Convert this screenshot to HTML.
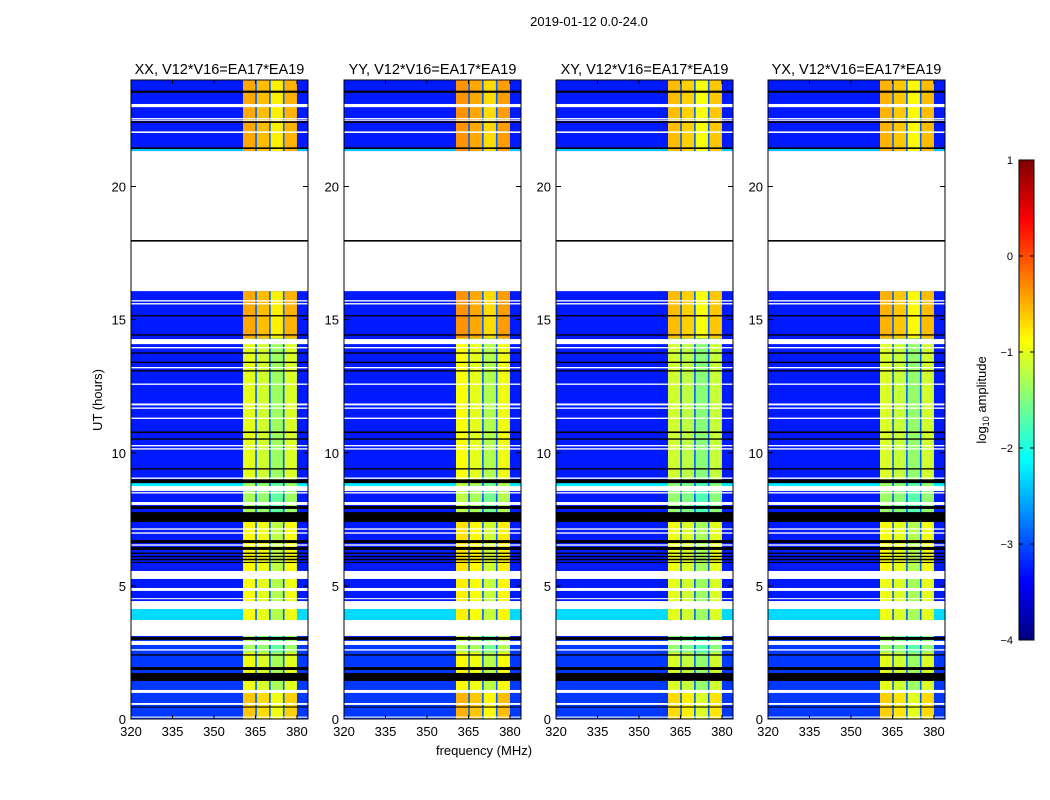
<!DOCTYPE html>
<html><head><meta charset="utf-8"><style>
body{margin:0;background:#fff;}
svg{display:block;font-family:"Liberation Sans","DejaVu Sans",sans-serif;}
</style></head><body>
<svg id="fig" width="1050" height="800" viewBox="0 0 1050 800">
<rect width="1050" height="800" fill="#fff"/>
<text x="589" y="26" font-size="13" text-anchor="middle">2019-01-12 0.0-24.0</text>
<text x="484" y="755" font-size="13" text-anchor="middle">frequency (MHz)</text>
<text transform="translate(102,400) rotate(-90)" font-size="13" text-anchor="middle">UT (hours)</text>
<text transform="translate(986,400) rotate(-90)" font-size="13" text-anchor="middle">log<tspan font-size="9" dy="3">10</tspan><tspan dy="-3"> amplitude</tspan></text>
</svg>
<script>
const panelNames=['XX','YY','XY','YX'];
const panelOffset=[0,0.1,-0.1,-0.05];
const xTicks=[320,335,350,365,380];
const yTicks=[0,5,10,15,20];
const cbTicks=[1,0,-1,-2,-3,-4];
const subbandEdges=[360.5,365,370,375,380];
const subbandOffset=[0,-0.1,-0.35,-0.05];
const gapLevel=-2.9;
const bgDefault=-3.25;
const bgSegments=[[0,3.1,-3.1],[3.72,4.13,-2.3],[8.75,8.86,-2.2],[21.33,21.41,-2.4]];
const bandSegments=[[21.33,24,-0.45],[14.3,16.07,-0.45],[8.9,14.3,-1.0],[7.6,8.9,-1.3],[5.5,7.6,-0.85],[3.6,5.5,-0.9],[2.5,3.6,-1.3],[1.0,2.5,-0.95],[0,1.0,-0.6]];
const flagSegments=[
[23.52,23.6,'k'],[22.98,23.1,'w'],[22.47,22.51,'w'],[22.53,22.57,'w'],[22.39,22.45,'k'],[22.01,22.07,'w'],[21.41,21.47,'k'],
[16.07,21.33,'w'],[17.93,17.99,'k'],
[15.68,15.73,'w'],[15.57,15.62,'w'],[15.12,15.17,'k'],[14.4,14.45,'k'],[14.08,14.27,'w'],[13.92,13.97,'w'],
[13.72,13.77,'k'],[13.37,13.42,'k'],[13.17,13.22,'w'],[13.05,13.1,'k'],[12.55,12.6,'w'],[11.78,11.85,'w'],
[11.65,11.7,'w'],[11.27,11.32,'w'],[10.74,10.8,'k'],[10.49,10.54,'k'],[10.24,10.29,'w'],[10.12,10.17,'w'],
[9.37,9.42,'k'],[9.02,9.07,'w'],[8.86,9.0,'k'],[8.56,8.75,'w'],[8.47,8.52,'w'],[8.04,8.15,'w'],[7.89,8.0,'k'],
[7.4,7.77,'k'],[7.11,7.16,'w'],[6.96,7.01,'w'],[6.61,6.72,'k'],[6.51,6.56,'w'],[6.35,6.46,'k'],
[6.2,6.25,'k'],[6.08,6.13,'k'],[5.96,6.02,'k'],[5.86,5.9,'k'],[5.26,5.56,'w'],[4.81,4.92,'w'],[4.5,4.54,'w'],
[4.13,4.43,'w'],[3.12,3.72,'w'],[2.97,3.08,'k'],[2.78,2.93,'w'],[2.57,2.62,'w'],[2.38,2.43,'k'],
[1.84,1.95,'k'],[1.43,1.73,'k'],[0.98,1.09,'w'],[0.53,0.6,'w'],[0.43,0.47,'k'],[0.05,0.09,'w']];
const panelLeft=[131,344,556,768];
const PW=177, PT=80, PB=719, F0=320, F1=384, T0=0, T1=24;
const NS='http://www.w3.org/2000/svg';
const svg=document.getElementById('fig');
function jet(v){let t=Math.max(0,Math.min(1,(v+4)/5));const c=x=>Math.round(255*Math.max(0,Math.min(1,1.5-Math.abs(4*t-x))));return `rgb(${c(3)},${c(2)},${c(1)})`;}
function mk(tag,attrs,parent){const e=document.createElementNS(NS,tag);for(const k in attrs)e.setAttribute(k,attrs[k]);(parent||svg).appendChild(e);return e;}
function yS(h){return PB-(h-T0)/(T1-T0)*(PB-PT);}
panelNames.forEach((nm,p)=>{
  const L=panelLeft[p];
  const xS=f=>L+(f-F0)/(F1-F0)*PW;
  const g=mk('g',{});
  
  
  const bg=mk('rect',{x:L,y:PT,width:PW,height:PB-PT,fill:jet(bgDefault)},g);
  
  
  bgSegments.forEach(s=>{const r=mk('rect',{x:L,y:yS(s[1]),width:PW,height:yS(s[0])-yS(s[1]),fill:jet(s[2])},g);
    
    });
  bandSegments.forEach(s=>{
    for(let i=0;i<subbandOffset.length;i++){
      const x0=xS(subbandEdges[i]), x1=xS(subbandEdges[i+1]);
      const r=mk('rect',{x:x0,y:yS(s[1]),width:x1-x0,height:yS(s[0])-yS(s[1]),fill:jet(s[2]+subbandOffset[i]+panelOffset[p])},g);
      
      
      if(i>0){const gp=mk('rect',{x:x0-0.2,y:yS(s[1]),width:1.6,height:yS(s[0])-yS(s[1]),fill:jet(gapLevel)},g);
        
        }
    }});
  flagSegments.forEach(s=>{const r=mk('rect',{x:L,y:yS(s[1]),width:PW,height:Math.max(1,yS(s[0])-yS(s[1])),fill:s[2]=='w'?'#fff':'#000'},g);
    
    });
  const fr=mk('rect',{x:L,y:PT,width:PW,height:PB-PT,fill:'none',stroke:'#000','stroke-width':1},g);
  
  
  const t=mk('text',{x:L+PW/2,y:74,'font-size':14.5,'text-anchor':'middle'},g);
  t.textContent=nm+', V12*V16=EA17*EA19';
  
  
  xTicks.forEach(v=>{const x=xS(v);
    mk('line',{x1:x,x2:x,y1:PB,y2:PB-4,stroke:'#000'},g);mk('line',{x1:x,x2:x,y1:PT,y2:PT+4,stroke:'#000'},g);
    const tx=mk('text',{x:x,y:736,'font-size':13,'text-anchor':'middle'},g);tx.textContent=v;
    
    });
  yTicks.forEach(v=>{const y=yS(v);
    mk('line',{x1:L,x2:L+5,y1:y,y2:y,stroke:'#000'},g);mk('line',{x1:L+PW,x2:L+PW-5,y1:y,y2:y,stroke:'#000'},g);
    const ty=mk('text',{x:L-5,y:y+5,'font-size':13,'text-anchor':'end'},g);ty.textContent=v;
    
    });
});
const CB={x:1019,w:15,top:160,bot:640,vmin:-4,vmax:1};
const cbY=v=>CB.bot-(v-CB.vmin)/(CB.vmax-CB.vmin)*(CB.bot-CB.top);
const cg=mk('g',{});


for(let i=0;i<120;i++){const v0=CB.vmin+i*(CB.vmax-CB.vmin)/120, v1=v0+(CB.vmax-CB.vmin)/120;
  mk('rect',{x:CB.x,y:cbY(v1),width:CB.w,height:cbY(v0)-cbY(v1)+0.5,fill:jet((v0+v1)/2)},cg);}
mk('rect',{x:CB.x,y:CB.top,width:CB.w,height:CB.bot-CB.top,fill:'none',stroke:'#000'},cg);
cbTicks.forEach(v=>{const y=cbY(v);
  mk('line',{x1:CB.x,x2:CB.x+4,y1:y,y2:y,stroke:'#000'},cg);mk('line',{x1:CB.x+CB.w,x2:CB.x+CB.w-4,y1:y,y2:y,stroke:'#000'},cg);
  const t=mk('text',{x:1013,y:y+4,'font-size':11,'text-anchor':'end'},cg);t.textContent=(v<0?'\u2212'+(-v):v);
  
  });
</script>
</body></html>
